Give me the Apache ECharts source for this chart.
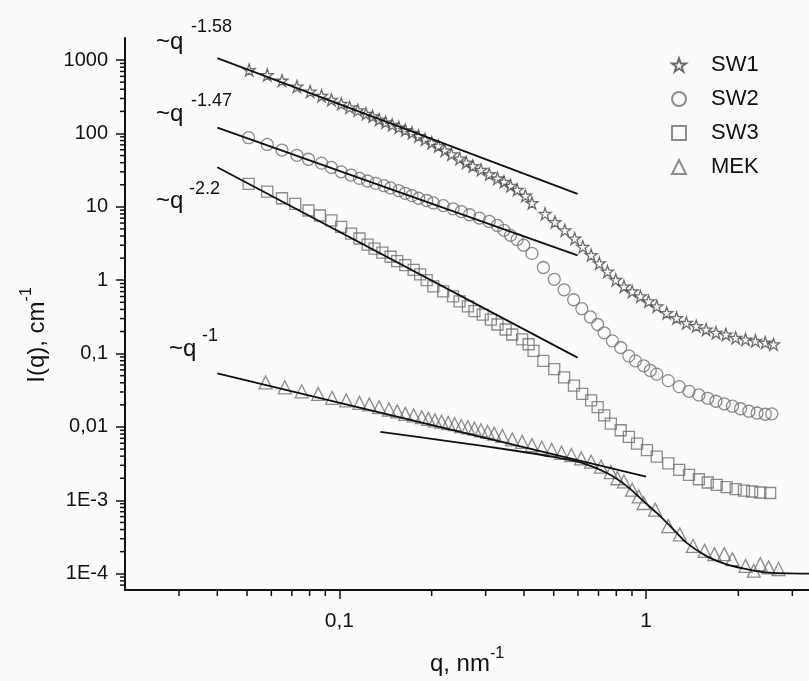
<!DOCTYPE html>
<html>
<head>
<meta charset="utf-8">
<script src="https://cdn.jsdelivr.net/npm/echarts@6/dist/echarts.min.js"></script>
<style>
  html, body { margin: 0; padding: 0; background: #fbfbfb; }
  #chart { width: 809px; height: 681px; }
</style>
</head>
<body>
<div id="chart"></div>
<script>
// scattering curves, q in nm^-1, I in cm^-1
const sw1Q = [0.0508,0.0582,0.0650,0.0727,0.0803,0.0875,0.0942,0.1014,0.1080,0.1148,0.1221,0.1283,0.1348,0.1415,0.1487,0.1563,0.1641,0.1725,0.1813,0.1903,0.2000,0.2102,0.2207,0.2320,0.2466,0.2592,0.2724,0.2896,0.3080,0.3278,0.3442,0.3617,0.3800,0.4042,0.4246,0.4686,0.5046,0.5436,0.5853,0.6222,0.6622,0.7042,0.7488,0.7968,0.8472,0.9010,0.9588,1.019,1.084,1.168,1.258,1.354,1.458,1.570,1.691,1.821,1.960,2.111,2.273,2.448,2.605];
const sw1I = [733,627,525,436,373,327,288,254,227,207,186,171,155,142,131,121,111,102,92.0,83.0,74.8,67.3,58.9,52.0,45.5,40.2,36.1,31.9,27.9,24.4,22.0,19.4,17.1,14.2,11.3,8.04,6.21,4.79,3.70,2.85,2.20,1.70,1.31,1.01,0.822,0.704,0.603,0.515,0.441,0.358,0.306,0.262,0.237,0.213,0.192,0.182,0.164,0.156,0.149,0.141,0.134];

const sw2Q = [0.0506,0.0582,0.0650,0.0727,0.0793,0.0875,0.0942,0.1014,0.1092,0.1163,0.1236,0.1314,0.1399,0.1469,0.1563,0.1641,0.1725,0.1813,0.1927,0.2025,0.2181,0.2349,0.2498,0.2657,0.2861,0.3080,0.3278,0.3442,0.3617,0.3800,0.3990,0.4246,0.4626,0.5020,0.5406,0.5808,0.6177,0.6588,0.6954,0.7306,0.7772,0.8268,0.8792,0.9238,0.9826,1.033,1.084,1.182,1.283,1.381,1.487,1.590,1.691,1.799,1.913,2.034,2.165,2.302,2.448,2.572];
const sw2I = [87.5,70.9,59.4,50.4,44.5,39.4,34.4,30.0,27.1,24.4,22.5,20.9,19.4,18.1,16.6,15.3,14.2,13.1,12.2,11.3,10.4,9.40,8.63,7.80,7.03,6.32,5.58,4.79,4.09,3.58,3.00,2.32,1.49,1.03,0.740,0.542,0.409,0.316,0.249,0.192,0.149,0.121,0.0931,0.0796,0.0682,0.0589,0.0525,0.0428,0.0355,0.0306,0.0273,0.0246,0.0224,0.0207,0.0192,0.0177,0.0164,0.0155,0.0149,0.0151];

const sw3Q = [0.0506,0.0582,0.0650,0.0718,0.0793,0.0864,0.0942,0.1014,0.1092,0.1163,0.1236,0.1302,0.1381,0.1469,0.1544,0.1641,0.1747,0.1834,0.1927,0.2025,0.2181,0.2349,0.2466,0.2625,0.2757,0.2933,0.3118,0.3278,0.3486,0.3662,0.3944,0.4142,0.4298,0.4626,0.5020,0.5406,0.5821,0.6194,0.6622,0.6954,0.7306,0.7680,0.8268,0.8792,0.9350,1.007,1.084,1.182,1.283,1.381,1.487,1.590,1.700,1.830,1.960,2.086,2.218,2.359,2.540];
const sw3I = [20.5,16.1,13.1,11.0,8.91,7.62,6.53,5.32,4.32,3.70,3.06,2.70,2.37,2.09,1.82,1.61,1.38,1.20,1.00,0.822,0.704,0.603,0.515,0.441,0.378,0.340,0.291,0.249,0.213,0.182,0.156,0.134,0.109,0.0796,0.0614,0.0474,0.0366,0.0282,0.0230,0.0186,0.0144,0.0111,0.00902,0.00733,0.00594,0.00484,0.00394,0.00319,0.00260,0.00222,0.00194,0.00175,0.00163,0.00151,0.00142,0.00136,0.00132,0.00128,0.00126];

const mekQ = [0.0575,0.0664,0.0754,0.0853,0.0947,0.1053,0.1163,0.1252,0.1348,0.1451,0.1544,0.1641,0.1747,0.1857,0.1951,0.2049,0.2154,0.2264,0.2377,0.2498,0.2625,0.2757,0.2896,0.3044,0.3197,0.3401,0.3662,0.3944,0.4246,0.4573,0.4924,0.5302,0.5709,0.6148,0.6622,0.7131,0.7680,0.8064,0.8472,0.9010,0.9466,0.9826,1.071,1.182,1.289,1.423,1.552,1.671,1.799,1.913,2.111,2.246,2.359,2.510,2.704];
const mekI = [0.0405,0.0347,0.0306,0.0282,0.0249,0.0230,0.0213,0.0203,0.0186,0.0173,0.0163,0.0151,0.0144,0.0136,0.0129,0.0123,0.0118,0.0113,0.0109,0.0103,0.00991,0.00949,0.00902,0.00855,0.00811,0.00755,0.00677,0.00627,0.00566,0.00520,0.00489,0.00445,0.00415,0.00373,0.00337,0.00288,0.00243,0.00200,0.00181,0.00140,0.00113,0.000920,0.000748,0.000445,0.000344,0.000239,0.000205,0.000185,0.000185,0.000158,0.000128,0.000110,0.000135,0.000122,0.000116];

// fitted power laws (end points) and the MEK model curve
const sw1FitQ = [0.040, 0.598], sw1FitI = [1064, 15.0];
const sw2FitQ = [0.040, 0.598], sw2FitI = [120, 2.18];
const sw3FitQ = [0.040, 0.598], sw3FitI = [34.7, 0.088];
const mekFitQ = [0.040, 1.0], mekFitI = [0.0537, 0.0021];
const mekModelQ = [0.136,0.223,0.375,0.505,0.615,0.749,0.868,0.983,1.084,1.227,1.354,1.570,1.821,2.111,2.448,3.40];
const mekModelI = [0.00855,0.00647,0.00474,0.00387,0.00327,0.00234,0.00155,0.000969,0.000673,0.000403,0.000265,0.000175,0.000135,0.000116,0.000104,0.000100];

const slopeLabels = ["-1.58", "-1.47", "-2.2", "-1"];
const xRange = [0.02, 3.4], yRange = [6e-5, 2000];
const minorSteps = [2, 3, 4, 5, 6, 7, 8, 9];

const pairs = (q, i) => q.map((v, k) => [v, i[k]]);
const font = "'Liberation Sans', Arial, sans-serif";
const starPath = "path://M50,0 L61.8,35.1 L97.6,35.1 L68.5,56.8 L79.4,91.5 L50,70 L20.6,91.5 L31.5,56.8 L2.4,35.1 L38.2,35.1 Z";

function decadeLabel(v) {
  const e = Math.round(Math.log10(v));
  if (e >= 0) return String(Math.pow(10, e));
  if (e >= -2) return "0," + "0".repeat(-e - 1) + "1";
  return "1E" + e;
}
function minorValues(lo, hi) {
  const out = [];
  for (let e = Math.floor(Math.log10(lo)); e <= Math.ceil(Math.log10(hi)); e++) {
    minorSteps.forEach(m => {
      const v = m * Math.pow(10, e);
      if (v > lo * 1.0001 && v < hi * 0.9999) out.push(v);
    });
  }
  return out;
}

const chart = echarts.init(document.getElementById("chart"));

function markerSeries(name, symbol, size, q, i, border) {
  return {
    name: name,
    type: "scatter",
    symbol: symbol,
    symbolSize: size,
    itemStyle: { color: "rgba(0,0,0,0)", borderColor: border, borderWidth: 1.3 },
    data: pairs(q, i),
    z: 2
  };
}
function fitSeries(q, i, smooth) {
  return {
    type: "line",
    symbol: "none",
    smooth: smooth || false,
    lineStyle: { color: "#111", width: 1.8 },
    data: pairs(q, i),
    z: 3
  };
}

const axisNameRich = {
  b: { fontSize: 24, fontFamily: font, color: "#111", lineHeight: 30, verticalAlign: "bottom" },
  s: { fontSize: 16, fontFamily: font, color: "#111", lineHeight: 16, verticalAlign: "top" }
};

const annot = [
  { x: 156, y: 42, sx: 191, sy: 27 },
  { x: 156, y: 114, sx: 191, sy: 101 },
  { x: 156, y: 201, sx: 189, sy: 189 },
  { x: 169, y: 349, sx: 202, sy: 336 }
];
const graphics = [];
annot.forEach((a, k) => {
  graphics.push({ type: "text", x: a.x, y: a.y, style: { text: "~q", font: "24px " + font, fill: "#111", verticalAlign: "middle" } });
  graphics.push({ type: "text", x: a.sx, y: a.sy, style: { text: slopeLabels[k], font: "18px " + font, fill: "#111", verticalAlign: "middle" } });
});

chart.setOption({
  backgroundColor: "#fbfbfb",
  animation: false,
  textStyle: { fontFamily: font },
  grid: { left: 125, right: -10, top: 38, bottom: 86.5, containLabel: false },
  legend: {
    orient: "vertical",
    left: 666,
    top: 49,
    itemWidth: 14,
    itemHeight: 14,
    itemGap: 12,
    textStyle: { fontSize: 22, color: "#111", lineHeight: 22, padding: [0, 0, 0, 20] },
    data: [
      { name: "SW1", icon: starPath },
      { name: "SW2", icon: "circle" },
      { name: "SW3", icon: "rect" },
      { name: "MEK", icon: "triangle" }
    ]
  },
  xAxis: {
    type: "log",
    logBase: 10,
    min: xRange[0],
    max: xRange[1],
    name: "{b|q, nm}{s|-1}",
    nameLocation: "middle",
    nameGap: 56,
    nameTextStyle: { rich: axisNameRich },
    axisLine: { lineStyle: { color: "#111", width: 2 } },
    axisTick: { length: 9, lineStyle: { color: "#111", width: 1.5 } },
    axisLabel: { formatter: decadeLabel, showMinLabel: false, showMaxLabel: false, fontSize: 21, color: "#111", margin: 21 },
    splitLine: { show: false }
  },
  yAxis: {
    type: "log",
    logBase: 10,
    min: yRange[0],
    max: yRange[1],
    name: "{b|I(q), cm}{s|-1}",
    nameLocation: "middle",
    nameRotate: 90,
    nameGap: 76,
    nameTextStyle: { rich: axisNameRich, padding: [0, 42, 0, 0] },
    axisLine: { lineStyle: { color: "#111", width: 2 } },
    axisTick: { length: 9, lineStyle: { color: "#111", width: 1.5 } },
    axisLabel: { formatter: decadeLabel, showMinLabel: false, showMaxLabel: false, fontSize: 20, color: "#111", margin: 17 },
    splitLine: { show: false }
  },
  graphic: graphics,
  series: [
    markerSeries("SW1", starPath, 12, sw1Q, sw1I, "#4a4a4a"),
    markerSeries("SW2", "circle", 12, sw2Q, sw2I, "#707070"),
    markerSeries("SW3", "rect", 11, sw3Q, sw3I, "#707070"),
    markerSeries("MEK", "triangle", 13, mekQ, mekI, "#707070"),
    fitSeries(sw1FitQ, sw1FitI),
    fitSeries(sw2FitQ, sw2FitI),
    fitSeries(sw3FitQ, sw3FitI),
    fitSeries(mekFitQ, mekFitI),
    fitSeries(mekModelQ, mekModelI, 0.3),
    {
      // minor log ticks on the y axis
      type: "custom",
      silent: true,
      data: minorValues(yRange[0], yRange[1]).map(v => [xRange[0], v]),
      renderItem: (params, api) => {
        const p = api.coord([api.value(0), api.value(1)]);
        return { type: "line", shape: { x1: p[0] - 5, y1: p[1], x2: p[0], y2: p[1] }, style: { stroke: "#111", lineWidth: 1.5 } };
      }
    },
    {
      // minor log ticks on the x axis
      type: "custom",
      silent: true,
      data: minorValues(xRange[0], xRange[1]).map(v => [v, yRange[0]]),
      renderItem: (params, api) => {
        const p = api.coord([api.value(0), api.value(1)]);
        return { type: "line", shape: { x1: p[0], y1: p[1], x2: p[0], y2: p[1] + 6 }, style: { stroke: "#111", lineWidth: 1.5 } };
      }
    }
  ]
});
</script>
</body>
</html>
